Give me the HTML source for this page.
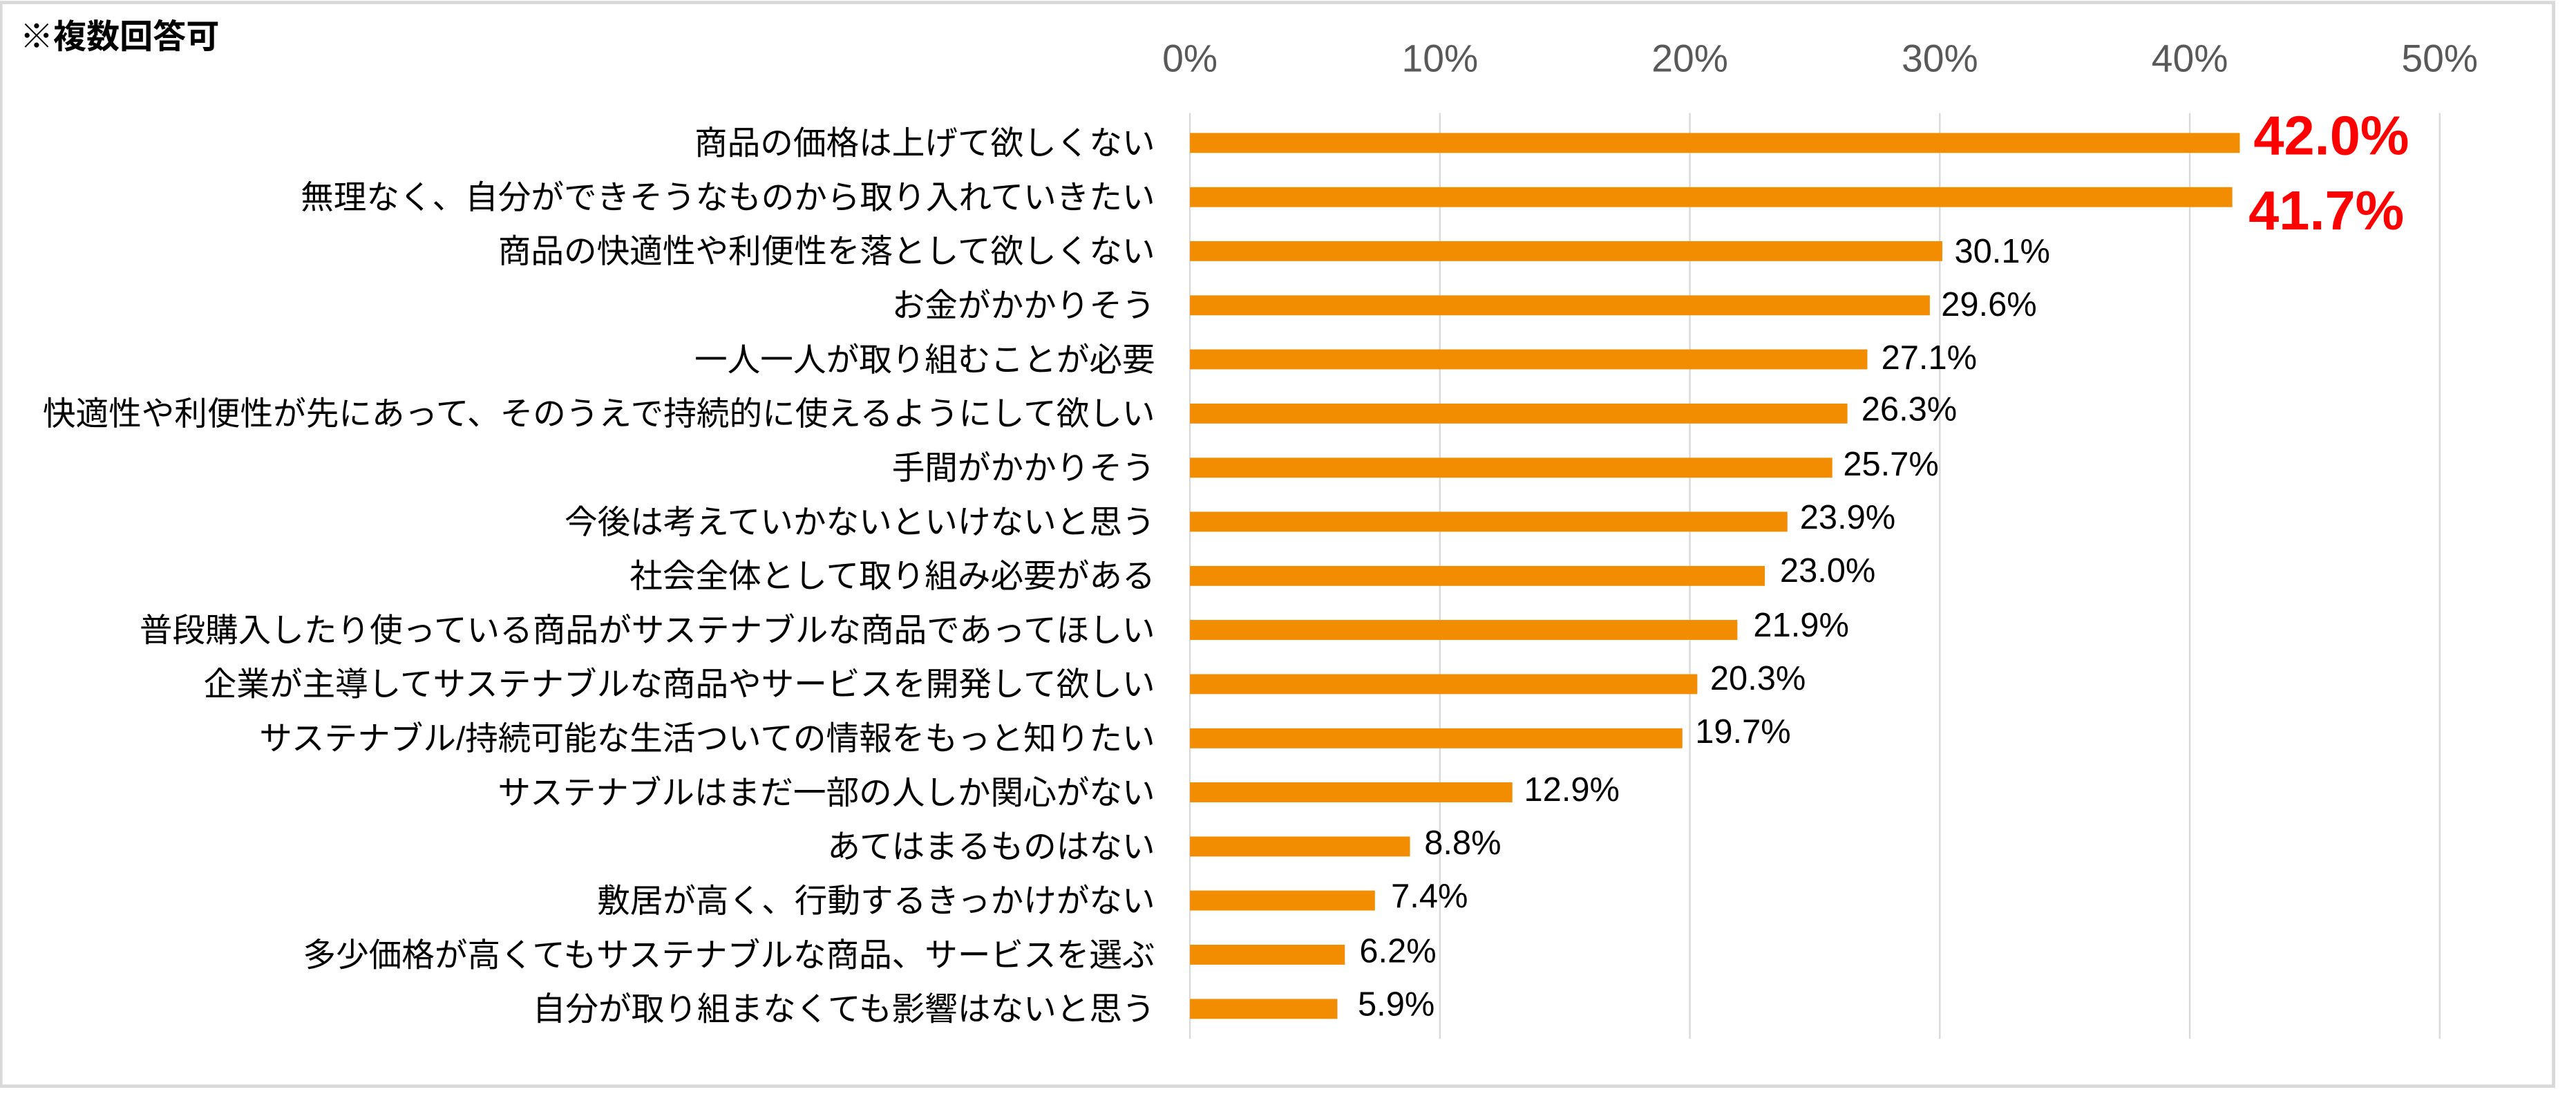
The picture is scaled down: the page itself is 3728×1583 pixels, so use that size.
<!DOCTYPE html>
<html><head><meta charset="utf-8"><style>
html,body{margin:0;padding:0;background:#fff;}
svg{display:block;}
text{font-family:"Liberation Sans","Noto Sans CJK JP",sans-serif;}
</style></head><body>
<svg width="3728" height="1583" viewBox="0 0 1550 658.2" preserveAspectRatio="none" xmlns="http://www.w3.org/2000/svg">
<rect x="0" y="0" width="1550" height="658.2" fill="#fff"/>
<rect x="0.5" y="1.5" width="1536" height="652" fill="none" stroke="#d9d9d9" stroke-width="2"/>
<text x="12" y="29" font-size="20" font-weight="bold" fill="#000">※複数回答可</text>
<g stroke="#d9d9d9" stroke-width="1">
<line x1="716" y1="68" x2="716" y2="625"/>
<line x1="866.4" y1="68" x2="866.4" y2="625"/>
<line x1="1016.8" y1="68" x2="1016.8" y2="625"/>
<line x1="1167.2" y1="68" x2="1167.2" y2="625"/>
<line x1="1317.6" y1="68" x2="1317.6" y2="625"/>
<line x1="1468" y1="68" x2="1468" y2="625"/>
</g>
<g font-size="23" fill="#595959" text-anchor="middle">
<text x="716" y="43">0%</text><text x="866.4" y="43">10%</text><text x="1016.8" y="43">20%</text>
<text x="1167.2" y="43">30%</text><text x="1317.6" y="43">40%</text><text x="1468" y="43">50%</text>
</g>
<g font-size="19.8" fill="#000" text-anchor="end">
<text x="695" y="93">商品の価格は上げて欲しくない</text>
<text x="695" y="125.6">無理なく、自分ができそうなものから取り入れていきたい</text>
<text x="695" y="158.1">商品の快適性や利便性を落として欲しくない</text>
<text x="695" y="190.7">お金がかかりそう</text>
<text x="695" y="223.2">一人一人が取り組むことが必要</text>
<text x="695" y="255.8">快適性や利便性が先にあって、そのうえで持続的に使えるようにして欲しい</text>
<text x="695" y="288.4">手間がかかりそう</text>
<text x="695" y="320.9">今後は考えていかないといけないと思う</text>
<text x="695" y="353.5">社会全体として取り組み必要がある</text>
<text x="695" y="386">普段購入したり使っている商品がサステナブルな商品であってほしい</text>
<text x="695" y="418.6">企業が主導してサステナブルな商品やサービスを開発して欲しい</text>
<text x="695" y="451.2">サステナブル/持続可能な生活ついての情報をもっと知りたい</text>
<text x="695" y="483.7">サステナブルはまだ一部の人しか関心がない</text>
<text x="695" y="516.3">あてはまるものはない</text>
<text x="695" y="548.8">敷居が高く、行動するきっかけがない</text>
<text x="695" y="581.4">多少価格が高くてもサステナブルな商品、サービスを選ぶ</text>
<text x="695" y="614">自分が取り組まなくても影響はないと思う</text>
</g>
<g fill="#f28c00">
<rect x="716" y="80" width="631.7" height="12"/>
<rect x="716" y="112.6" width="627.2" height="12"/>
<rect x="716" y="145.1" width="452.7" height="12"/>
<rect x="716" y="177.7" width="445.2" height="12"/>
<rect x="716" y="210.2" width="407.6" height="12"/>
<rect x="716" y="242.8" width="395.6" height="12"/>
<rect x="716" y="275.4" width="386.5" height="12"/>
<rect x="716" y="307.9" width="359.5" height="12"/>
<rect x="716" y="340.5" width="345.9" height="12"/>
<rect x="716" y="373" width="329.4" height="12"/>
<rect x="716" y="405.6" width="305.3" height="12"/>
<rect x="716" y="438.2" width="296.3" height="12"/>
<rect x="716" y="470.7" width="194" height="12"/>
<rect x="716" y="503.3" width="132.4" height="12"/>
<rect x="716" y="535.8" width="111.3" height="12"/>
<rect x="716" y="568.4" width="93.2" height="12"/>
<rect x="716" y="601" width="88.7" height="12"/>
</g>
<g font-size="33" font-weight="bold" fill="#ff0000">
<text x="1356" y="93">42.0%</text>
<text x="1353" y="138">41.7%</text>
</g>
<g font-size="20.3" fill="#000">
<text x="1176" y="158">30.1%</text>
<text x="1168" y="190">29.6%</text>
<text x="1132" y="222">27.1%</text>
<text x="1120" y="253">26.3%</text>
<text x="1109" y="286">25.7%</text>
<text x="1083" y="318">23.9%</text>
<text x="1071" y="350">23.0%</text>
<text x="1055" y="383">21.9%</text>
<text x="1029" y="415">20.3%</text>
<text x="1020" y="447">19.7%</text>
<text x="917" y="482">12.9%</text>
<text x="857" y="514">8.8%</text>
<text x="837" y="546">7.4%</text>
<text x="818" y="579">6.2%</text>
<text x="817" y="611">5.9%</text>
</g>
</svg>
</body></html>
